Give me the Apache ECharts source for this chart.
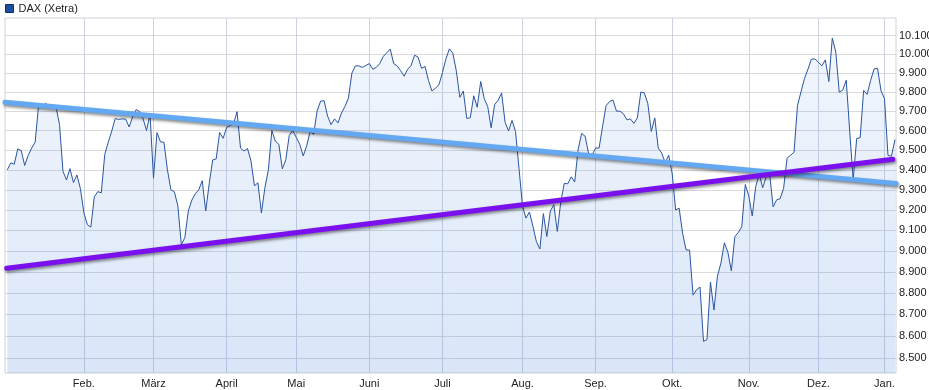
<!DOCTYPE html>
<html><head><meta charset="utf-8">
<script src="https://cdn.jsdelivr.net/npm/echarts@6/dist/echarts.min.js"></script>
<style>html,body{margin:0;padding:0;background:#fff}#c{width:929px;height:390px}</style>
</head><body><div id="c"></div>
<script>
// DAX (Xetra) daily closes, one array per month (trading days), Jan 2014 – Jan 2015
const seriesName = 'DAX (Xetra)';
const jan2014 = [9400, 9435, 9428, 9506, 9497, 9422, 9473, 9510, 9540, 9733, 9717, 9742, 9716, 9731, 9720, 9631, 9392, 9349, 9406, 9336, 9374, 9306];
const feb2014 = [9186, 9128, 9116, 9265, 9291, 9285, 9478, 9540, 9597, 9662, 9657, 9660, 9659, 9618, 9670, 9708, 9699, 9661, 9600, 9685];
const mar2014 = [9358, 9589, 9542, 9540, 9400, 9300, 9290, 9220, 9030, 9065, 9195, 9248, 9280, 9300, 9345, 9195, 9330, 9450, 9455, 9590, 9560];
const apr2014 = [9615, 9625, 9635, 9697, 9510, 9495, 9508, 9445, 9320, 9335, 9185, 9310, 9400, 9600, 9545, 9530, 9405, 9450, 9575, 9600];
const may2014 = [9565, 9530, 9470, 9521, 9595, 9580, 9700, 9752, 9755, 9675, 9630, 9660, 9639, 9690, 9725, 9768, 9900, 9938, 9938, 9930, 9940];
const jun2014 = [9950, 9920, 9930, 9950, 9988, 10008, 10028, 9950, 9938, 9912, 9883, 9920, 9940, 9995, 9985, 9925, 9935, 9860, 9805, 9820, 9838];
const jul2014 = [9902, 9975, 10029, 10005, 9910, 9772, 9805, 9662, 9666, 9780, 9720, 9855, 9765, 9725, 9614, 9734, 9756, 9795, 9642, 9598, 9652, 9595, 9407];
const aug2014 = [9220, 9160, 9190, 9120, 9045, 9010, 9182, 9070, 9195, 9226, 9095, 9240, 9332, 9330, 9365, 9339, 9505, 9585, 9570, 9480, 9475];
const sep2014 = [9510, 9510, 9620, 9728, 9750, 9758, 9700, 9700, 9686, 9655, 9660, 9637, 9665, 9800, 9795, 9740, 9595, 9665, 9510, 9485, 9435, 9474];
const oct2014 = [9382, 9200, 9209, 9086, 9005, 9005, 8790, 8815, 8828, 8575, 8583, 8852, 8720, 8880, 8942, 9040, 8995, 8905, 9070, 9090, 9118, 9326];
const nov2014 = [9270, 9170, 9316, 9380, 9310, 9365, 9380, 9215, 9250, 9256, 9306, 9458, 9474, 9488, 9730, 9800, 9870, 9920, 9974, 9975];
const dec2014 = [9958, 9938, 9970, 9855, 10087, 10012, 9799, 9810, 9862, 9597, 9350, 9558, 9563, 9808, 9787, 9860, 9922, 9925, 9806];
const jan2015 = [9765, 9473, 9469, 9553];

// x-axis: trading-day index of first trading day of each month, with labels
const monthTickIndex = [22, 42, 63, 83, 104, 125, 148, 169, 191, 213, 233, 252];
const monthTickLabels = ['Feb.', 'März', 'April', 'Mai', 'Juni', 'Juli', 'Aug.', 'Sep.', 'Okt.', 'Nov.', 'Dez.', 'Jan.'];

// y-axis (logarithmic) ticks
const yTickValues = [8500, 8600, 8700, 8800, 8900, 9000, 9100, 9200, 9300, 9400, 9500, 9600, 9700, 9800, 9900, 10000, 10100];
const yMin = 8431, yMax = 10196;

// trend lines: [trading-day index, value] at both ends
const upperTrend = [[-0.66, 9746], [255.29, 9332]];
const lowerTrend = [[-0.17, 8917], [254.4, 9453]];

const ln = Math.log;
const closes = [].concat(jan2014, feb2014, mar2014, apr2014, may2014, jun2014, jul2014, aug2014, sep2014, oct2014, nov2014, dec2014, jan2015);
const points = closes.map((v, i) => [i, ln(v)]);
const fmtDE = v => String(Math.round(v)).replace(/\B(?=(\d{3})+(?!\d))/g, '.');
const trendPair = (t, color) => [
  {coord: [t[0][0], ln(t[0][1])], lineStyle: {color: color}},
  {coord: [t[1][0], ln(t[1][1])]}
];

const chart = echarts.init(document.getElementById('c'), null, {renderer: 'canvas'});
chart.setOption({
  animation: false,
  textStyle: {fontFamily: '"Liberation Sans", Arial, sans-serif'},
  legend: {
    left: 5, top: 3, padding: 0, icon: 'rect', itemWidth: 8, itemHeight: 8, itemGap: 5,
    itemStyle: {borderColor: '#0f2f6e', borderWidth: 1},
    textStyle: {fontSize: 11, color: '#222', padding: [0, 0, 0, 0]},
    data: [seriesName]
  },
  grid: {left: 5, right: 33, top: 18, bottom: 17, show: true, borderColor: '#d2d2d2', borderWidth: 1, backgroundColor: '#fff', containLabel: false, outerBoundsMode: 'none'},
  xAxis: {
    type: 'value', min: -0.66, max: 255.3,
    axisLine: {show: false},
    axisTick: {show: false, customValues: monthTickIndex},
    axisLabel: {
      customValues: monthTickIndex,
      formatter: v => monthTickLabels[monthTickIndex.indexOf(Math.round(v))] || '',
      fontSize: 11, color: '#222', margin: 5
    },
    splitLine: {show: true, lineStyle: {color: '#cdd3e0', width: 1}}
  },
  yAxis: {
    type: 'value', position: 'right', min: ln(yMin), max: ln(yMax),
    axisLine: {show: false},
    axisTick: {show: false, customValues: yTickValues.map(ln)},
    axisLabel: {
      customValues: yTickValues.map(ln),
      formatter: v => fmtDE(Math.exp(v)),
      fontSize: 11, color: '#222', margin: 3
    },
    splitLine: {show: true, lineStyle: {color: '#d9d9de', width: 1}}
  },
  series: [{
    name: seriesName, type: 'line', data: points, symbol: 'none', showSymbol: false,
    lineStyle: {width: 1, color: '#2a569f'},
    itemStyle: {color: '#1e4f9c'},
    areaStyle: {
      color: {type: 'linear', x: 0, y: 0, x2: 0, y2: 1, colorStops: [
        {offset: 0, color: 'rgba(70,130,220,0.10)'},
        {offset: 1, color: 'rgba(70,130,220,0.29)'}
      ]}
    },
    markLine: {
      silent: true, symbol: ['none', 'none'], label: {show: false}, animation: false,
      lineStyle: {type: 'solid', width: 5, cap: 'round', shadowColor: 'rgba(0,0,0,0.45)', shadowBlur: 3, shadowOffsetX: 1, shadowOffsetY: 2},
      data: [trendPair(upperTrend, '#63a8f2'), trendPair(lowerTrend, '#7b10ee')]
    }
  }]
});
</script></body></html>
